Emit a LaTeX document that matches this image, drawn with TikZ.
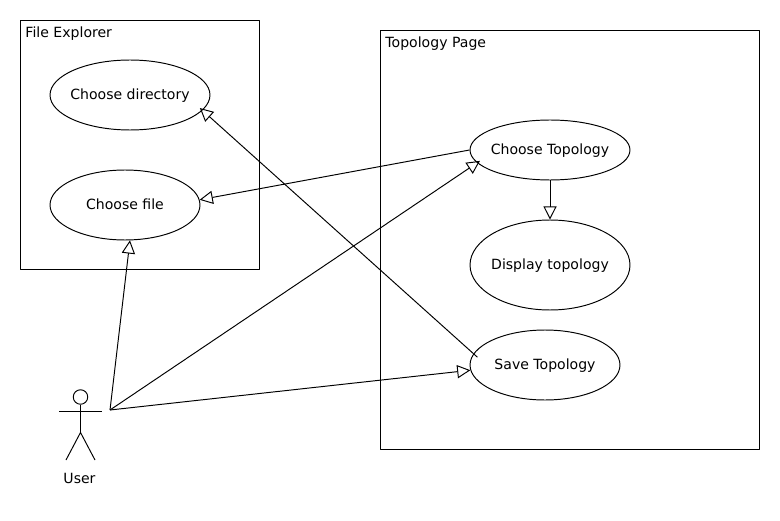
\documentclass[tikz,border=0pt]{standalone}
\usepackage{fontspec}
\setmainfont{DejaVu Sans}
\usetikzlibrary{arrows.meta,shapes.geometric}
\tikzset{
	usecase/.style={draw, ellipse, inner xsep=-0.4cm, inner ysep=0pt, text depth=0.9pt},
	pagebox/.style={draw, rectangle, inner sep=0pt},
	boxtitle/.style={anchor=west, inner sep=0pt},
	assoc/.style={-{Triangle[open, length=7.5pt, width=7.5pt]}}
}
\begin{document}
\begin{tikzpicture}[x=0.02cm, y=-0.02cm, font=\fontsize{8}{10}\selectfont, line width=0.55pt, line join=round]
	\useasboundingbox (0,0) rectangle (780,520);
	% boxes
	\node[pagebox, minimum width=4.8cm, minimum height=4.99cm] (explorer) at (140,144.75) {};
	\node[boxtitle] (explorertitle) at (25,34) {File Explorer};
	\node[pagebox, minimum width=7.6cm, minimum height=8.39cm] (topologypage) at (570,239.75) {};
	\node[boxtitle] (topologytitle) at (385,44) {Topology Page};
	% use cases
	\node[usecase, minimum width=3.2cm, minimum height=1.4cm] (directory) at (130,95) {Choose directory};
	\node[usecase, minimum width=3cm, minimum height=1.4cm] (file) at (125,205) {Choose file};
	\node[usecase, minimum width=3.2cm, minimum height=1.2cm] (choose) at (550,150) {Choose Topology};
	\node[usecase, minimum width=3.2cm, minimum height=1.8cm] (display) at (550,265) {Display topology};
	\node[usecase, minimum width=3cm, minimum height=1.4cm] (save) at (545,365) {Save Topology};
	% actor
	\node[draw, circle, inner sep=0pt, minimum size=0.29cm] (head) at (80.5,397) {};
	\coordinate (armleft) at (59,411);
	\coordinate (armright) at (102,411);
	\coordinate (hip) at (80.5,432.5);
	\coordinate (footleft) at (66,460);
	\coordinate (footright) at (95,460);
	\draw (head.south)--(hip);
	\draw (armleft)--(armright);
	\draw (footleft)--(hip)--(footright);
	\node (user) at (79.5,478) {User};
	% connectors
	\coordinate (start) at (110,410);
	\draw[assoc] (start)--(file.-82);
	\draw[assoc, shorten >=-2pt] (start)--(choose.190);
	\draw[assoc] (start)--(save.184);
	\draw[assoc] (choose.west)--(file.4);
	\draw[assoc, shorten <=-3pt, shorten >=-2pt] (save.171)--(directory.-12);
	\draw[assoc] (choose.south)--(display.north);
\end{tikzpicture}
\end{document}
